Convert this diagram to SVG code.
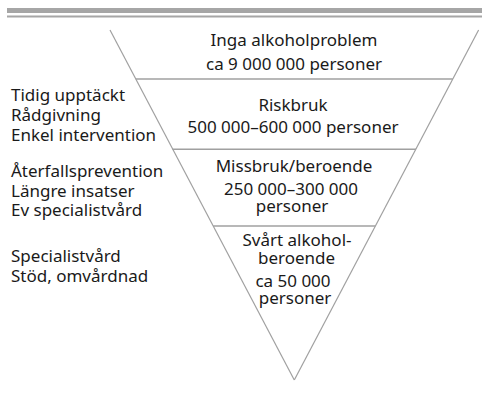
<svg xmlns="http://www.w3.org/2000/svg" width="482" height="396" viewBox="0 0 482 396">
<style>
text{font-family:"Noto Sans","Open Sans","Liberation Sans",sans-serif;font-size:17px;fill:#1a1a1a}
.c{text-anchor:middle}
.ln{stroke:#a0a0a0;stroke-width:1.2;fill:none}
.dv{stroke:#a0a0a0;stroke-width:1.6;fill:none}
</style>
<rect x="7" y="8" width="475" height="5" fill="#a6a6a6"/>
<rect x="7" y="15.5" width="475" height="2" fill="#a6a6a6"/>
<g id="connectors">
<line class="ln" x1="110" y1="30" x2="294.3" y2="380"/>
<line class="ln" x1="478.6" y1="30" x2="294.3" y2="380"/>
<line class="dv" x1="135.8" y1="79" x2="452.8" y2="79"/>
<line class="dv" x1="172.5" y1="149.3" x2="416" y2="149.3"/>
<line class="dv" x1="213.2" y1="226" x2="375.4" y2="226"/>
</g>
<g id="level1">
<text class="c" x="294" y="46.3">Inga alkoholproblem</text>
<text class="c" x="294" y="70">ca 9 000 000 personer</text>
</g>
<g id="level2">
<text class="c" x="293" y="110.7">Riskbruk</text>
<text class="c" x="293" y="132.7">500 000–600 000 personer</text>
</g>
<g id="level3">
<text class="c" x="294" y="171.7">Missbruk/beroende</text>
<text class="c" x="291" y="194.5">250 000–300 000</text>
<text class="c" x="292" y="212">personer</text>
</g>
<g id="level4">
<text class="c" x="297" y="245.7">Svårt alkohol-</text>
<text class="c" x="296.5" y="264">beroende</text>
<text class="c" x="293" y="286.5">ca 50 000</text>
<text class="c" x="295" y="304">personer</text>
</g>
<g id="actions1">
<text x="11" y="100.7">Tidig upptäckt</text>
<text x="11" y="120.7">Rådgivning</text>
<text x="11" y="140.7">Enkel intervention</text>
</g>
<g id="actions2">
<text x="11" y="176.7">Återfallsprevention</text>
<text x="11" y="196.7">Längre insatser</text>
<text x="11" y="216">Ev specialistvård</text>
</g>
<g id="actions3">
<text x="11" y="261.7">Specialistvård</text>
<text x="11" y="281.7">Stöd, omvårdnad</text>
</g>
</svg>
